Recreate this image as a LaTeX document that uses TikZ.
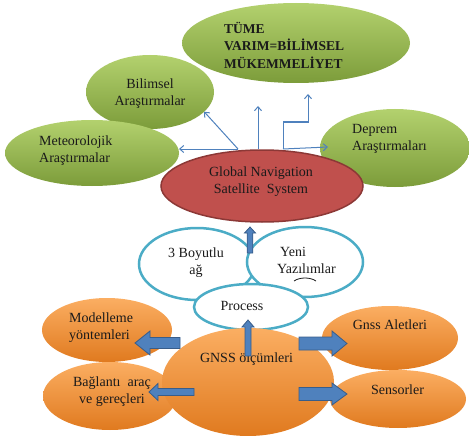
\documentclass[tikz,border=0pt]{standalone}
\usepackage{fontspec}
\setmainfont{Liberation Serif}
\usetikzlibrary{shapes.geometric,arrows.meta,calc}
\definecolor{grnT}{HTML}{B3D16E}
\definecolor{grnM}{HTML}{9BBB59}
\definecolor{grnB}{HTML}{7C9C3A}
\definecolor{orT}{HTML}{FBAE62}
\definecolor{orM}{HTML}{F79646}
\definecolor{orB}{HTML}{E07A1F}
\definecolor{redF}{HTML}{C0504D}
\definecolor{redD}{HTML}{8C3836}
\definecolor{cyanD}{HTML}{4BACC6}
\definecolor{blueF}{HTML}{4F81BD}
\definecolor{blueD}{HTML}{385D8A}
\definecolor{txt}{HTML}{1A1A1A}
\newcommand{\blkarrow}[5]{%
  \coordinate (bahead) at ($(#2)!#5!(#1)$);
  \draw[blockarrow] ($(#1)!#3!-90:(#2)$) -- ($(bahead)!#3!-90:(#2)$) -- ($(bahead)!#4!-90:(#2)$) -- (#2) -- ($(bahead)!#4!90:(#2)$) -- ($(bahead)!#3!90:(#2)$) -- ($(#1)!#3!90:(#2)$) -- cycle;}
\begin{document}
\begin{tikzpicture}[x=1pt,y=-1pt,
  ell/.style={ellipse, inner sep=0pt, outer sep=0pt},
  greenell/.style={ell, top color=grnT, middle color=grnM, bottom color=grnB, draw=none},
  orangeell/.style={ell, top color=orT, middle color=orM, bottom color=orB, draw=none},
  redell/.style={ell, fill=redF, draw=redD, line width=1.5pt},
  cyanell/.style={ell, fill=white, draw=cyanD, line width=2.5pt},
  lbl/.style={font=\fontsize{14}{17}\selectfont, text=txt, inner sep=0pt},
  thinarrow/.style={draw=blueF, line width=1pt, -{Straight Barb[length=4pt,width=7pt]}},
  blockarrow/.style={fill=blueF, draw=blueD, line width=0.8pt, line join=miter}]
\useasboundingbox (0,0) rectangle (469,436);
% green ellipses
\node[greenell, minimum width=228pt, minimum height=80pt] (tume) at (296,43) {};
\node[greenell, minimum width=128pt, minimum height=74pt] (bilim) at (150,92) {};
\node[greenell, minimum width=174pt, minimum height=66pt] (meteo) at (92,153) {};
\node[greenell, minimum width=150pt, minimum height=78pt] (deprem) at (395,148) {};
% red
\node[redell, minimum width=202pt, minimum height=72pt] (gsys) at (262,186) {};
% cyan
\node[cyanell, minimum width=116pt, minimum height=72pt] (boyut) at (197,264) {};
\node[cyanell, minimum width=116pt, minimum height=70pt] (yeni) at (305,262) {};
\node[cyanell, minimum width=114pt, minimum height=46pt] (proc) at (251,307) {};
% orange
\node[orangeell, minimum width=130pt, minimum height=64pt] (model) at (107,330) {};
\node[orangeell, minimum width=134pt, minimum height=68pt] (bag) at (110,396) {};
\node[orangeell, minimum width=172pt, minimum height=108pt] (olc) at (248,382) {};
\node[orangeell, minimum width=136pt, minimum height=64pt] (alet) at (390,338) {};
\node[orangeell, minimum width=136pt, minimum height=58pt] (sens) at (398,399) {};
% labels
\node[lbl, anchor=west, align=left, font=\bfseries\fontsize{13.5}{17.5}\selectfont] (tumeT) at (224,45) {TÜME\\VARIM=BİLİMSEL\\MÜKEMMELİYET};
\node[lbl, align=center] (bilimT) at (150,93.5) {Bilimsel\\Araştırmalar};
\node[lbl, anchor=west, align=left] (meteoT) at (39,151) {Meteorolojik\\Araştırmalar};
\node[lbl, anchor=west, align=left] (depremT) at (352,139) {Deprem\\Araştırmaları};
\node[lbl, align=center] (gsysT) at (261,182) {Global Navigation\\Satellite\ \ System};
\node[lbl, align=center] (boyutT) at (196,262.5) {3 Boyutlu\\ağ};
\node[lbl, anchor=west, align=left] (yeniT) at (277,260.5) {\hspace{3pt}Yeni\\Yazılımlar};
\node[lbl] (procT) at (242,306) {Process};
\node[lbl, anchor=west, align=left] (modelT) at (69,328) {Modelleme\\yöntemleri};
\node[lbl] (olcT) at (246.5,359) {GNSS ölçümleri};
\node[lbl, align=center] (bagT) at (112,392) {Bağlantı\ \ araç\\ve gereçleri};
\node[lbl] (aletT) at (390,325) {Gnss Aletleri};
\node[lbl] (sensT) at (397.5,390) {Sensorler};
% squiggle under Yazılımlar
\draw[txt, line width=0.8pt] (294,281) .. controls (300,277) and (310,277) .. (316,281);
% thin arrows
\coordinate (h1) at (238,149);
\coordinate (h2) at (258,149);
\coordinate (h3) at (283,149);
\coordinate (e3) at (258,106);
\coordinate (e4) at (308,94);
\coordinate (e5) at (328,147);
\draw[thinarrow] (h1) -- (meteo.east |- h1);
\draw[thinarrow] (h1) -- (bilim.-20);
\draw[thinarrow] (h2) -- (e3);
\draw[thinarrow] (h3) -- (283,122) -- (308,122) -- (e4);
\draw[thinarrow] (h3) -- (e5);
% block arrows
\coordinate (v1s) at (250,253); \coordinate (v1e) at (250,227);
\coordinate (v2s) at (248,356); \coordinate (v2e) at (248,320);
\coordinate (ms) at (180,343); \coordinate (me) at (135,343);
\coordinate (bs) at (194,392); \coordinate (be) at (149,392);
\coordinate (gs) at (299,343.5); \coordinate (ge) at (347,343.5);
\coordinate (ss) at (299,394); \coordinate (se) at (347,394);
\blkarrow{v1s}{v1e}{2.8pt}{5.5pt}{6pt}
\blkarrow{v2s}{v2e}{3pt}{6pt}{7pt}
\blkarrow{ms}{me}{5.5pt}{12pt}{15pt}
\blkarrow{bs}{be}{3.5pt}{8.5pt}{9pt}
\blkarrow{gs}{ge}{6.5pt}{12.5pt}{15pt}
\blkarrow{ss}{se}{6.5pt}{11pt}{15pt}
\end{tikzpicture}
\end{document}
